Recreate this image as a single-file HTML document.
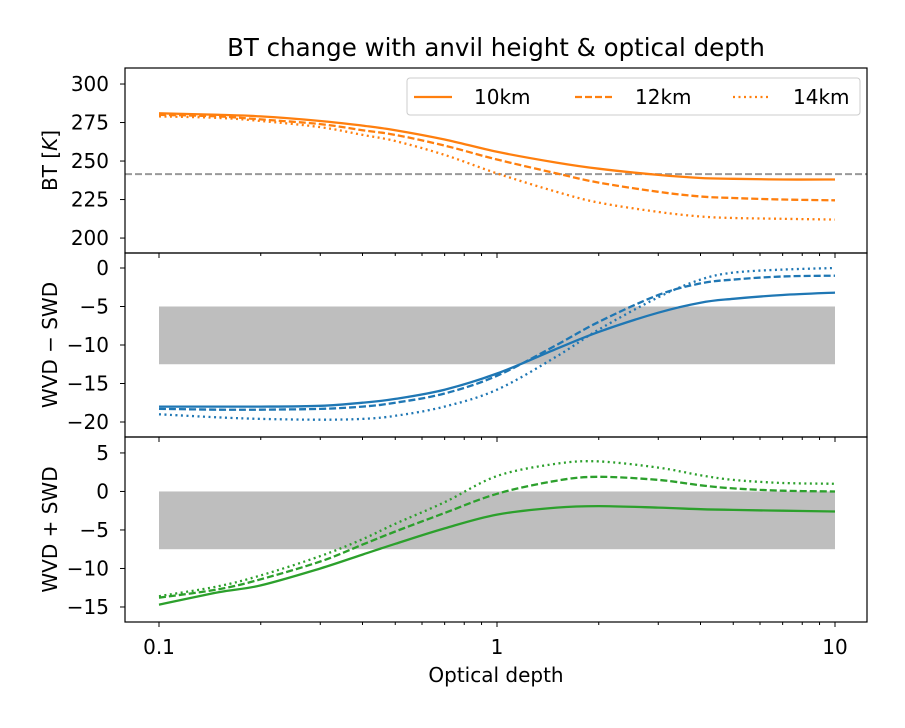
<!DOCTYPE html>
<html><head><meta charset="utf-8"><style>
body{margin:0;background:#fff}
text{font-family:"DejaVu Sans","Liberation Sans",sans-serif;fill:#000}
</style></head><body>
<svg id="chart" width="905" height="723" viewBox="0 0 905 723" xmlns="http://www.w3.org/2000/svg">
<text x="496" y="56" font-size="24.5" text-anchor="middle">BT change with anvil height &amp; optical depth</text>
<text x="496" y="682" font-size="20" text-anchor="middle">Optical depth</text>
<g id="panels"></g>
</svg>
<script>
const tau = [0.1,0.15,0.2,0.3,0.4,0.5,0.7,1,1.5,2,3,4,5,7,10];
const bt10 = [281,280,279,276,273,270,264,256,249,245,241,239,238.5,238,238];
const bt12 = [280,279,277,274,270,267,260,251,242,236,230,227,226,225,224.5];
const bt14 = [279,278,276,272,267,263,254,242,230,223,217,214,213,212.5,212];
const dif10 = [-18,-18,-18,-17.9,-17.5,-17,-15.8,-13.7,-10.5,-8.3,-5.8,-4.5,-4,-3.5,-3.2];
const dif12 = [-18.3,-18.4,-18.4,-18.3,-18,-17.5,-16.3,-14,-10,-7,-3.5,-2,-1.5,-1.1,-1];
const dif14 = [-19,-19.4,-19.6,-19.7,-19.6,-19.2,-18,-15.8,-11.5,-8,-3.8,-1.5,-0.6,-0.2,0];
const sum10 = [-14.7,-13.1,-12.2,-10,-8.2,-6.8,-4.8,-3,-2.1,-1.9,-2.1,-2.3,-2.4,-2.5,-2.6];
const sum12 = [-13.8,-12.7,-11.4,-9.1,-6.9,-5.2,-2.8,-0.3,1.4,1.9,1.5,0.8,0.4,0.1,0];
const sum14 = [-13.6,-12.3,-10.9,-8.4,-6.2,-4.2,-1.4,2,3.6,3.9,3.1,2.1,1.5,1.1,1];
const btTicks = [200,225,250,275,300];
const difTicks = [-20,-15,-10,-5,0];
const sumTicks = [-15,-10,-5,0,5];
const xTicks = [0.1,1,10];
const xTickLabels = ["0.1","1","10"];
const btThreshold = 241.5;
const difBand = [-12.5,-5];
const sumBand = [-7.5,0];

const NS="http://www.w3.org/2000/svg";
const L=125,R=867;
function xs(t){return 497+Math.log10(t)*338;}
function mk(tag,attrs,parent){const e=document.createElementNS(NS,tag);for(const k in attrs)e.setAttribute(k,attrs[k]);parent.appendChild(e);return e;}
function smooth(P){let d='M'+P[0][0].toFixed(1)+','+P[0][1].toFixed(1);
  for(let i=0;i<P.length-1;i++){const p0=P[Math.max(i-1,0)],p1=P[i],p2=P[i+1],p3=P[Math.min(i+2,P.length-1)];
    const c1=[p1[0]+(p2[0]-p0[0])/6,p1[1]+(p2[1]-p0[1])/6],c2=[p2[0]-(p3[0]-p1[0])/6,p2[1]-(p3[1]-p1[1])/6];
    d+=' C'+c1.map(v=>v.toFixed(1)).join(',')+' '+c2.map(v=>v.toFixed(1)).join(',')+' '+p2[0].toFixed(1)+','+p2[1].toFixed(1);}
  return d;}
const root=document.getElementById('panels');
const dashes=["","7,3","2,3.5"];
function panel(name,top,bot,ymin,ymax,ticks,series,color,label,band,hline,showX){
  const g=mk('g',{},root);
  
  
  const ys=v=>bot-(v-ymin)/(ymax-ymin)*(bot-top);
  if(band){const r=mk('rect',{x:xs(0.1),y:ys(band[1]),width:xs(10)-xs(0.1),height:ys(band[0])-ys(band[1]),fill:'#bebebe'},g);
    
    }
  if(hline!==undefined){const h=mk('line',{x1:L,x2:R,y1:ys(hline),y2:ys(hline),stroke:'#999','stroke-width':2,'stroke-dasharray':'7,3'},g);
    
    }
  series.forEach((s,i)=>{
    const P=tau.map((t,j)=>[xs(t),ys(s[j])]);
    const p=mk('path',{d:smooth(P),fill:'none',stroke:color,'stroke-width':2.3,'stroke-dasharray':dashes[i]},g);
    
    
  });
  const ax=mk('rect',{x:L,y:top,width:R-L,height:bot-top,fill:'none',stroke:'#000','stroke-width':1.2},g);
  
  
  ticks.forEach(v=>{
    mk('line',{x1:L-5,x2:L,y1:ys(v),y2:ys(v),stroke:'#000'},g);
    const t=mk('text',{x:L-16,y:ys(v)+7,'font-size':20,'text-anchor':'end'},g);
    t.textContent=v<0?'\u2212'+(-v):String(v);
    
    
  });
  for(let d=0.1;d<10;d*=10){for(let k=1;k<10;k++){const x=xs(d*k);
    mk('line',{x1:x,x2:x,y1:bot,y2:bot+(k===1?5:3),stroke:'#000'},g);}}
  mk('line',{x1:xs(10),x2:xs(10),y1:bot,y2:bot+5,stroke:'#000'},g);
  if(showX){xTicks.forEach((v,i)=>{const t=mk('text',{x:xs(v),y:bot+32,'font-size':20,'text-anchor':'middle'},g);
    t.textContent=xTickLabels[i];
    
    });}
  const yl=mk('text',{x:0,y:0,'font-size':20,'text-anchor':'middle',transform:`translate(57,${(top+bot)/2}) rotate(-90)`},g);
  yl.innerHTML=label;
  
  
}
panel('bt',68,253,190.3,310.4,btTicks,[bt10,bt12,bt14],'#ff7f0e','BT [<tspan font-style="italic">K</tspan>]',null,btThreshold,false);
panel('wvd-minus-swd',253,437,-21.95,1.95,difTicks,[dif10,dif12,dif14],'#1f77b4','WVD \u2212 SWD',difBand,undefined,false);
panel('wvd-plus-swd',437,622,-16.95,7.07,sumTicks,[sum10,sum12,sum14],'#2ca02c','WVD + SWD',sumBand,undefined,true);
const lg=mk('g',{},document.getElementById('chart'));


mk('rect',{x:407,y:78,width:453,height:37,rx:3,fill:'#fff',stroke:'#ccc'},lg);
[['10km',414],['12km',575],['14km',733]].forEach((e,i)=>{
  const l=mk('line',{x1:e[1],x2:e[1]+38,y1:97,y2:97,stroke:'#ff7f0e','stroke-width':2.3,'stroke-dasharray':dashes[i]},lg);
  
  
  const t=mk('text',{x:e[1]+60,y:104,'font-size':20},lg);
  t.textContent=e[0];
  
  
});
</script>
</body></html>
